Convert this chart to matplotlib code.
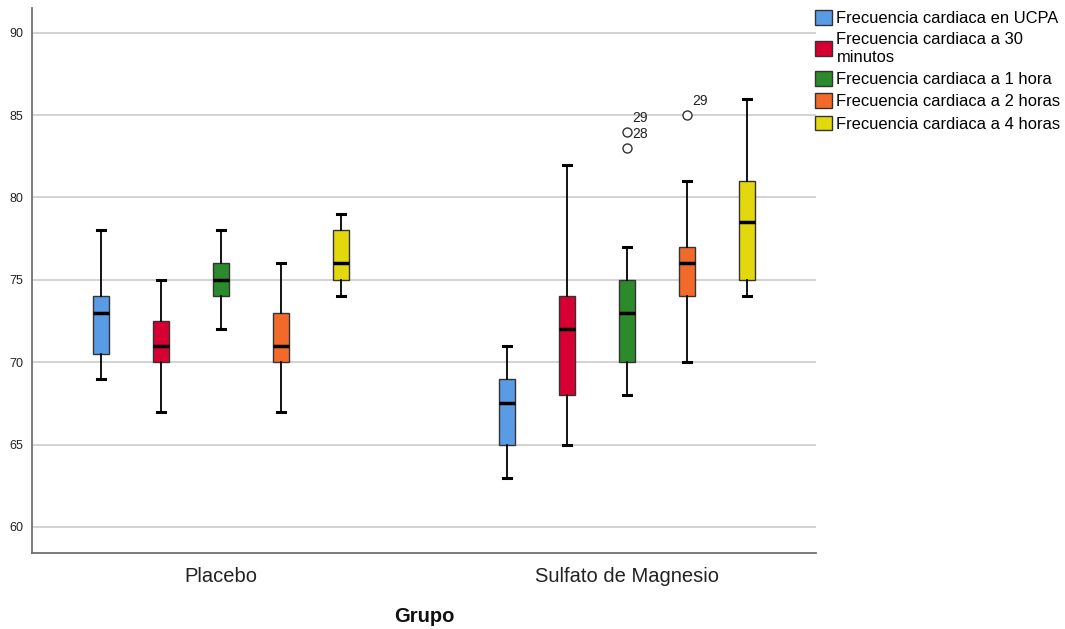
import matplotlib.pyplot as plt
from matplotlib.patches import Patch

plt.rcParams['font.family'] = ['Liberation Sans', 'DejaVu Sans']

groups = ['Placebo', 'Sulfato de Magnesio']
series = ['Frecuencia cardiaca en UCPA', 'Frecuencia cardiaca a 30\nminutos',
          'Frecuencia cardiaca a 1 hora', 'Frecuencia cardiaca a 2 horas',
          'Frecuencia cardiaca a 4 horas']
colors = ['#5a9be6', '#d60032', '#2b8a2b', '#f26a2a', '#e3d80e']

# five-number summaries per group, one row per series: whislo, q1, med, q3, whishi
placebo = [
    [69, 70.5, 73, 74, 78],
    [67, 70, 71, 72.5, 75],
    [72, 74, 75, 76, 78],
    [67, 70, 71, 73, 76],
    [74, 75, 76, 78, 79],
]
sulfato = [
    [63, 65, 67.5, 69, 71],
    [65, 68, 72, 74, 82],
    [68, 70, 73, 75, 77],
    [70, 74, 76, 77, 81],
    [74, 75, 78.5, 81, 86],
]
# outliers (group, series) -> values, case ids
outliers = {(1, 2): ([84, 83], ['29', '28']),
            (1, 3): ([85], ['29'])}

fig = plt.figure(figsize=(10.65, 6.29), dpi=100)
ax = fig.add_axes([32 / 1065, 76 / 629, 784 / 1065, 545 / 629])

step = 60 / 406
width = 16 / 406
for g, data in enumerate([placebo, sulfato]):
    for s, row in enumerate(data):
        pos = g + (s - 2) * step
        fl, ids = outliers.get((g, s), ([], []))
        st = dict(whislo=row[0], q1=row[1], med=row[2], q3=row[3], whishi=row[4], fliers=fl)
        ax.bxp([st], positions=[pos], widths=width, capwidths=8 / 406,
               patch_artist=True, showfliers=True,
               boxprops=dict(facecolor=colors[s], edgecolor='#333333', linewidth=1),
               medianprops=dict(color='black', linewidth=2.5),
               whiskerprops=dict(color='black', linewidth=1.3),
               capprops=dict(color='black', linewidth=2.2),
               flierprops=dict(marker='o', markerfacecolor='white', markeredgecolor='#333333',
                               markersize=6.5, markeredgewidth=1))
        for v, cid in zip(fl, ids):
            ax.annotate(cid, (pos, v), xytext=(3.5, 5), textcoords='offset points',
                        fontsize=10, color='#222222', va='bottom')

ax.set_xlim(-189 / 406, 595 / 406)
ax.set_ylim(58.42, 91.5)
ax.set_yticks([60, 65, 70, 75, 80, 85, 90])
ax.set_xticks([0, 1])
ax.set_xticklabels(groups, fontsize=14.5, color='#222222')
ax.tick_params(axis='y', length=0, pad=6, labelsize=9, labelcolor='#222222')
ax.tick_params(axis='x', length=0, pad=10)
ax.grid(axis='y', color='#cfcfcf', linewidth=1.3)
ax.set_axisbelow(True)
for side in ['top', 'right']:
    ax.spines[side].set_visible(False)
for side in ['left', 'bottom']:
    ax.spines[side].set_color('#707070')
    ax.spines[side].set_linewidth(1.3)

ax.set_xlabel('Grupo', fontsize=14.5, fontweight='bold', labelpad=15, color='#111111')

handles = [Patch(facecolor=c, edgecolor='#333333', linewidth=1) for c in colors]
fig.legend(handles, series, loc='upper left', bbox_to_anchor=(815 / 1065, 1 - 10 / 629),
           frameon=False, fontsize=11.9, borderpad=0, borderaxespad=0,
           handlelength=1.05, handleheight=1.0, handletextpad=0.25, labelspacing=0.38)

fig.savefig('out.png', dpi=100)
